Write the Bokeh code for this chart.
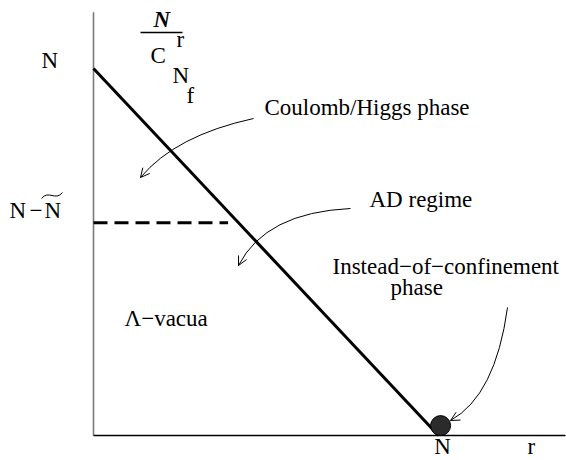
from bokeh.plotting import figure
from bokeh.models import Range1d, Arrow, OpenHead
from bokeh.core.properties import value
from bokeh.embed import file_html
from bokeh.resources import INLINE

# ---- data (in units of N) ----
boundary_r = [0.0, 1.0]
boundary_nf = [1.0, 0.0]
ad_r = [0.0, 0.39]
ad_nf = [0.58, 0.58]
point_r = [1.006]
point_nf = [0.027]
y_tick_values = [1.0, 0.58]
y_tick_labels = ["N", "N"]
x_tick_values = [1.0]
x_tick_labels = ["N"]
axis_r_max = 1.368
axis_nf_max = 1.153

# page-pixel -> data helpers for annotation placement
X0, XS, Y0, YS = 93.0, 345.0, 435.0, 367.0
def dx(px):
    return (px - X0) / XS
def dy(py):
    return (Y0 - py) / YS

FONT = "Liberation Serif"
FS = "23px"
SHIFT = 8  # renderer places alphabetic baseline ~8px lower

p = figure(width=566, height=460, output_backend="svg", toolbar_location=None,
           x_range=Range1d(dx(0), dx(566)), y_range=Range1d(dy(460), dy(0)),
           min_border=0)
p.outline_line_color = None
p.grid.visible = False
p.axis.visible = False

# axes
p.line([0, 0], [0, axis_nf_max], line_color="#7a7a7a", line_width=1.6)
p.line([0, axis_r_max], [0, 0], line_color="black", line_width=1.3)

# boundary line and AD regime dashed line
p.line(boundary_r, boundary_nf, line_color="black", line_width=3)
p.line(ad_r, ad_nf, line_color="black", line_width=3, line_dash="14 7")
p.scatter(point_r, point_nf, size=20, fill_color="#2b2b2b", line_color="black", line_width=1)

def lab(px, py, text, style="normal", align="left"):
    p.text(x=[dx(px)], y=[dy(py - SHIFT)], text=[text], text_font=value(FONT),
           text_font_size=value(FS), text_font_style=style, text_align=align,
           text_baseline="alphabetic", text_color="black")

# tick-like labels (left)
lab(41, 68, y_tick_labels[0])
lab(9, 218, y_tick_labels[1])
lab(29, 218, "\u2212")
lab(44, 218, y_tick_labels[1])
p.bezier(x0=[dx(41)], y0=[dy(198)], x1=[dx(62)], y1=[dy(192)],
         cx0=[dx(48)], cy0=[dy(189)], cx1=[dx(55)], cy1=[dy(201)],
         line_color="black", line_width=1)
# bottom
lab(442, 454, x_tick_labels[0], align="center")
lab(527, 454, "r")

# top-left axis label (stacked)
lab(153, 27, "N", style="bold italic")
p.line([dx(140), dx(182)], [dy(32), dy(32)], line_color="black", line_width=1.3)
lab(176, 47, "r")
lab(150, 63, "C")
lab(172, 83, "N")
lab(186, 103, "f")

# region labels
lab(264, 115, "Coulomb/Higgs phase")
lab(369, 207, "AD regime")
lab(332, 274, "Instead\u2212of\u2212confinement")
lab(390, 295, "phase")
lab(124, 326, "\u039b\u2212vacua")

# curved arrows (start, control, end) in page px
arrows = [((253, 118), (175, 135), (140, 177)),
          ((350, 208), (265, 212), (238, 265)),
          ((507, 307), (495, 395), (450, 420))]
for s, c, e in arrows:
    p.quadratic(x0=[dx(s[0])], y0=[dy(s[1])], x1=[dx(e[0])], y1=[dy(e[1])],
                cx=[dx(c[0])], cy=[dy(c[1])], line_color="black", line_width=1)
    p.add_layout(Arrow(end=OpenHead(size=9, line_width=1, line_color="black"),
                       x_start=dx(c[0]), y_start=dy(c[1]), x_end=dx(e[0]), y_end=dy(e[1]),
                       line_alpha=0))

open("out.html", "w").write(file_html(p, INLINE))
